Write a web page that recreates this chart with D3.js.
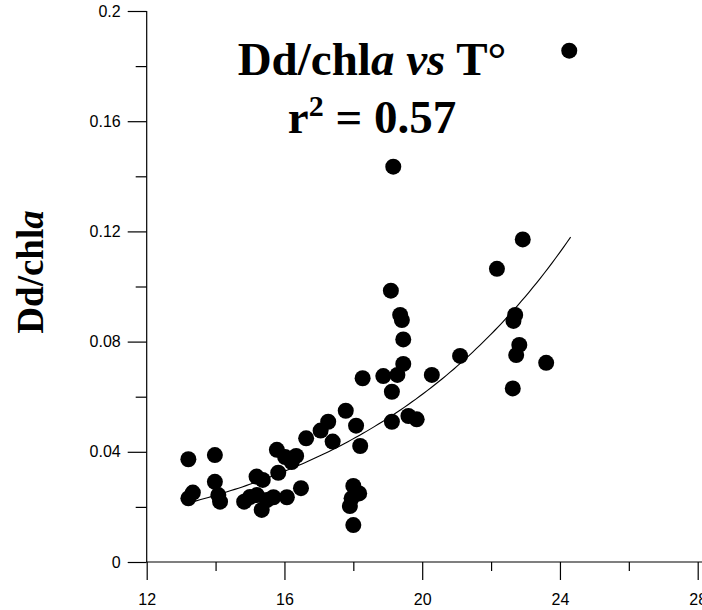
<!DOCTYPE html>
<html>
<head>
<meta charset="utf-8">
<script src="https://cdn.jsdelivr.net/npm/d3@7/dist/d3.min.js"></script>
<style>
  html, body { margin: 0; padding: 0; background: #fff; }
  svg { display: block; }
</style>
</head>
<body>
<svg id="chart" width="702" height="610"></svg>
<script>
// ---- Data ----
const tempValues = [
  13.21, 13.98, 13.34, 13.21, 13.98, 14.08, 14.13, 14.83, 15.00, 15.19,
  15.37, 15.20, 15.34, 15.49, 15.68, 16.07, 15.82, 15.78, 16.02, 16.21,
  16.34, 16.48, 16.63, 17.05, 17.27, 17.40, 17.78, 18.08, 18.20, 18.00,
  18.17, 17.95, 17.90, 18.00, 18.27, 18.87, 19.28, 19.09, 19.36, 19.41,
  19.45, 19.45, 19.12, 19.12, 19.60, 19.84, 20.28, 21.10, 22.17, 22.92,
  22.70, 22.65, 22.82, 22.73, 23.60, 22.63, 19.16, 24.27
];
const ratioValues = [
  0.0373, 0.0388, 0.0252, 0.0231, 0.0291, 0.0243, 0.0219, 0.0219, 0.0236, 0.0310,
  0.0298, 0.0243, 0.0189, 0.0225, 0.0235, 0.0235, 0.0324, 0.0407, 0.0381, 0.0363,
  0.0385, 0.0268, 0.0449, 0.0477, 0.0509, 0.0437, 0.0549, 0.0495, 0.0421, 0.0276,
  0.0249, 0.0231, 0.0203, 0.0134, 0.0667, 0.0675, 0.0679, 0.0985, 0.0897, 0.0878,
  0.0808, 0.0719, 0.0618, 0.0509, 0.0530, 0.0518, 0.0679, 0.0748, 0.1064, 0.1171,
  0.0897, 0.0875, 0.0788, 0.0751, 0.0723, 0.0630, 0.1435, 0.1856
];
// Exponential fit shown in the figure: y = a * exp(b * x)
const fitA = 0.002818;
const fitB = 0.1536;
const fitRange = [13.35, 24.31];

const xTickValues = [12, 16, 20, 24, 28];
const xTickLabels = ["12", "16", "20", "24", "28"];
const xMinorTicks = [14, 18, 22, 26];
const yTickValues = [0, 0.04, 0.08, 0.12, 0.16, 0.2];
const yTickLabels = ["0", "0.04", "0.08", "0.12", "0.16", "0.2"];
const yMinorTicks = [0.02, 0.06, 0.10, 0.14, 0.18];

// ---- Chart ----
const svg = d3.select("#chart");
const x = d3.scaleLinear().domain([12, 28]).range([146.7, 697.7]);
const y = d3.scaleLinear().domain([0, 0.2]).range([562, 11]);

const sansFont = "'Liberation Sans', Arial, sans-serif";
const serifFont = "'Liberation Serif', 'Times New Roman', serif";

// Y axis
const yAxis = d3.axisLeft(y).tickValues(yTickValues)
  .tickFormat((d, i) => yTickLabels[i]).tickSize(19).tickPadding(7);
const gy = svg.append("g").attr("transform", `translate(${x(12)},0)`).call(yAxis);
const yMinor = d3.axisLeft(y).tickValues(yMinorTicks).tickFormat("").tickSize(11);
const gym = svg.append("g").attr("transform", `translate(${x(12)},0)`).call(yMinor);

// X axis
const xAxis = d3.axisBottom(x).tickValues(xTickValues)
  .tickFormat((d, i) => xTickLabels[i]).tickSize(18).tickPadding(14);
const gx = svg.append("g").attr("transform", `translate(0,${y(0)})`).call(xAxis);
const xMinor = d3.axisBottom(x).tickValues(xMinorTicks).tickFormat("").tickSize(9);
const gxm = svg.append("g").attr("transform", `translate(0,${y(0)})`).call(xMinor);

[gy, gym, gx, gxm].forEach(g => {
  g.select(".domain").attr("stroke", "#000").attr("stroke-width", 1.2)
    .attr("d", function() { return d3.select(this).attr("d").replace(/^M[^V]*V/, m => m); });
  g.selectAll(".tick line").attr("stroke", "#000").attr("stroke-width", 1.2);
  g.selectAll(".tick text").attr("fill", "#000")
    .style("font-family", sansFont).style("font-size", "16px");
});
// remove outer tick stubs on domains (plain lines)
gy.select(".domain").attr("d", `M0,${y(0.2)}V${y(0)}`);
gx.select(".domain").attr("d", `M${x(12)},0H${x(28) + 10}`);
gym.select(".domain").remove();
gxm.select(".domain").remove();

// Fit curve
const fitPts = d3.range(0, 101).map(i => {
  const t = fitRange[0] + (fitRange[1] - fitRange[0]) * i / 100;
  return [t, fitA * Math.exp(fitB * t)];
});
svg.append("path")
  .datum(fitPts)
  .attr("fill", "none")
  .attr("stroke", "#000")
  .attr("stroke-width", 1.1)
  .attr("d", d3.line().x(d => x(d[0])).y(d => y(d[1])));

// Points
svg.append("g").selectAll("circle")
  .data(tempValues.map((t, i) => [t, ratioValues[i]]))
  .join("circle")
  .attr("cx", d => x(d[0]))
  .attr("cy", d => y(d[1]))
  .attr("r", 8)
  .attr("fill", "#000");

// Title
const title = svg.append("text")
  .attr("x", 372).attr("y", 75)
  .attr("text-anchor", "middle")
  .style("font-family", serifFont).style("font-weight", "bold").style("font-size", "47px");
title.append("tspan").text("Dd/chl");
title.append("tspan").style("font-style", "italic").text("a");
title.append("tspan").text(" ");
title.append("tspan").style("font-style", "italic").text("vs");
title.append("tspan").text(" T°");

const r2 = svg.append("text")
  .attr("x", 372).attr("y", 133)
  .attr("text-anchor", "middle")
  .style("font-family", serifFont).style("font-weight", "bold").style("font-size", "47px");
r2.append("tspan").text("r");
r2.append("tspan").attr("dy", -17).style("font-size", "30px").text("2");
r2.append("tspan").attr("dy", 17).text(" = 0.57");

// Y label
const yl = svg.append("text")
  .attr("transform", "translate(43,272) rotate(-90)")
  .attr("text-anchor", "middle")
  .style("font-family", serifFont).style("font-weight", "bold").style("font-size", "37px");
yl.append("tspan").text("Dd/chl");
yl.append("tspan").style("font-style", "italic").text("a");
</script>
</body>
</html>
